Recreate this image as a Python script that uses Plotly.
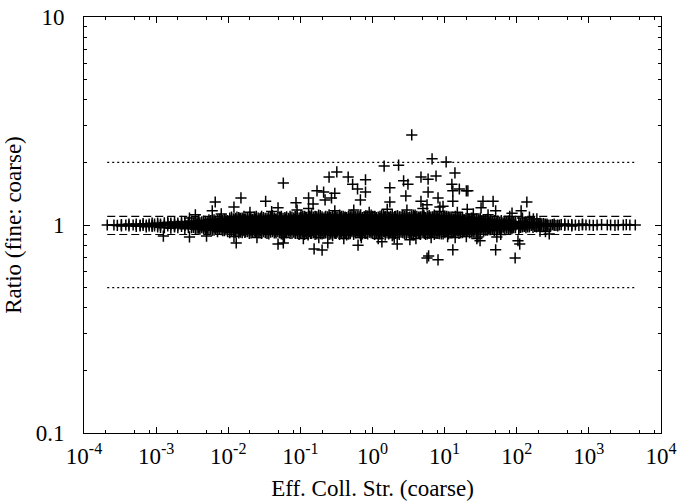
import plotly.graph_objects as go

# ---------------- data ----------------
# dense band of points: (x, list of ratios at that x)
band_cols = [
    (2.1e-4, [1.0]), (2.6e-4, [1.0]), (2.9e-4, [0.995]), (3.3e-4, [1.005, 0.99]),
    (3.8e-4, [1.0]), (4.2e-4, [0.99, 1.01]), (4.8e-4, [1.0]), (5.3e-4, [1.01, 0.985]),
    (6.0e-4, [1.0, 0.99]), (6.6e-4, [1.015, 0.995]), (7.3e-4, [1.0, 0.98]),
    (8.0e-4, [1.01, 0.99]), (8.8e-4, [1.0, 1.02, 0.985]), (9.5e-4, [0.99, 1.01]),
    (1.05e-3, [1.0, 0.98, 1.02]), (1.15e-3, [1.01, 0.975, 0.995]), (1.3e-3, [1.0, 1.025, 0.97]),
    (1.45e-3, [0.99, 1.015, 1.03]), (1.6e-3, [1.0, 0.965, 1.02]), (1.8e-3, [1.005, 0.98, 1.035, 0.99]),
    (2.0e-3, [1.0, 0.97, 1.02]), (2.25e-3, [1.01, 0.985, 1.04]), (2.5e-3, [0.995, 0.96, 1.025, 1.0]),
    (2.8e-3, [1.0, 1.03, 0.975]), (3.1e-3, [1.015, 0.97, 0.99, 1.045]), (3.5e-3, [1.0, 0.955, 1.03]),
    (3.9e-3, [0.985, 1.02, 1.05, 0.965]), (4.3e-3, [1.0, 1.035, 0.97, 0.99]),
    (4.8e-3, [1.01, 0.95, 1.04, 0.98]), (5.4e-3, [1.0, 1.06, 0.96, 1.025]),
    (6.0e-3, [0.99, 1.03, 0.945, 1.05, 1.01]), (6.7e-3, [1.0, 0.97, 1.045, 0.955, 1.02]),
    (7.5e-3, [1.015, 0.96, 1.065, 0.985, 1.035]), (8.4e-3, [1.0, 0.94, 1.05, 0.975, 1.025]),
    (9.3e-3, [0.99, 1.06, 0.95, 1.02, 1.04]),
    (1.05e-2, [1.0, 0.95, 1.05, 0.92, 1.08, 0.98, 1.02]),
    (1.18e-2, [1.01, 0.96, 1.04, 0.93, 1.07, 0.99]),
    (1.32e-2, [0.99, 1.03, 0.94, 1.06, 0.97, 1.09, 1.0]),
    (1.48e-2, [1.0, 0.955, 1.045, 0.925, 1.075, 1.015]),
    (1.65e-2, [0.985, 1.025, 0.94, 1.065, 0.96, 1.1, 1.0]),
    (1.85e-2, [1.0, 0.97, 1.035, 0.93, 1.08, 0.95, 1.05]),
    (2.07e-2, [1.01, 0.945, 1.055, 0.915, 1.07, 0.98]),
    (2.3e-2, [0.995, 1.03, 0.96, 1.09, 0.935, 1.06, 1.0]),
    (2.6e-2, [1.0, 0.95, 1.045, 0.92, 1.08, 0.975, 1.02]),
    (2.9e-2, [1.005, 0.965, 1.04, 0.91, 1.1, 0.94, 1.065]),
    (3.25e-2, [0.99, 1.025, 0.955, 1.075, 0.925, 1.05, 1.0]),
    (3.65e-2, [1.0, 0.94, 1.06, 0.97, 1.03, 0.905, 1.09]),
    (4.1e-2, [1.015, 0.96, 1.045, 0.93, 1.08, 0.985, 1.11]),
    (4.6e-2, [1.0, 0.95, 1.035, 0.915, 1.07, 0.975, 1.055]),
    (5.15e-2, [0.99, 1.04, 0.945, 1.09, 0.92, 1.06, 1.01]),
    (5.75e-2, [1.0, 0.965, 1.025, 0.93, 1.075, 0.9, 1.05]),
    (6.45e-2, [1.01, 0.955, 1.05, 0.92, 1.095, 0.98, 1.03]),
    (7.2e-2, [0.995, 1.035, 0.94, 1.065, 0.91, 1.1, 0.97]),
    (8.1e-2, [1.0, 0.95, 1.045, 0.925, 1.08, 0.975, 1.02, 1.06]),
    (9.05e-2, [1.005, 0.96, 1.04, 0.91, 1.07, 0.94, 1.095, 0.985]),
    (0.102, [1.0, 0.95, 1.05, 0.915, 1.085, 0.97, 1.03, 1.11]),
    (0.114, [0.99, 1.04, 0.935, 1.07, 0.9, 1.1, 0.965, 1.015]),
    (0.128, [1.0, 0.955, 1.06, 0.92, 1.09, 0.98, 1.025, 0.895]),
    (0.143, [1.01, 0.945, 1.045, 0.91, 1.075, 0.97, 1.12, 0.99]),
    (0.160, [0.995, 1.035, 0.93, 1.065, 0.9, 1.1, 0.96, 1.015]),
    (0.179, [1.0, 0.95, 1.05, 0.92, 1.08, 0.975, 1.025, 1.115]),
    (0.200, [1.005, 0.94, 1.04, 0.905, 1.07, 0.965, 1.095, 0.985]),
    (0.224, [0.99, 1.03, 0.955, 1.06, 0.915, 1.1, 0.975, 1.01]),
    (0.250, [1.0, 0.945, 1.055, 0.9, 1.085, 0.97, 1.03, 1.12]),
    (0.280, [1.01, 0.96, 1.045, 0.925, 1.075, 0.89, 1.105, 0.985]),
    (0.313, [0.995, 1.04, 0.935, 1.065, 0.91, 1.09, 0.965, 1.02]),
    (0.350, [1.0, 0.95, 1.05, 0.92, 1.08, 0.975, 1.115, 0.9]),
    (0.392, [1.005, 0.955, 1.035, 0.905, 1.07, 0.94, 1.1, 0.985]),
    (0.438, [0.99, 1.045, 0.93, 1.06, 0.895, 1.085, 0.97, 1.02]),
    (0.490, [1.0, 0.96, 1.05, 0.915, 1.075, 0.945, 1.11, 1.025]),
    (0.548, [1.01, 0.945, 1.04, 0.9, 1.09, 0.975, 1.065, 0.99]),
    (0.613, [0.995, 1.035, 0.95, 1.07, 0.92, 1.1, 0.965, 1.015]),
    (0.685, [1.0, 0.94, 1.055, 0.91, 1.08, 0.98, 1.12, 0.89]),
    (0.766, [1.005, 0.955, 1.045, 0.925, 1.065, 0.97, 1.095, 1.02]),
    (0.857, [0.99, 1.03, 0.935, 1.075, 0.905, 1.105, 0.96, 1.01]),
    (0.958, [1.0, 0.95, 1.05, 0.915, 1.085, 0.975, 1.025, 1.115]),
    (1.07, [1.005, 0.945, 1.04, 0.9, 1.07, 0.965, 1.1, 0.985]),
    (1.20, [0.99, 1.035, 0.93, 1.06, 0.91, 1.09, 0.97, 1.02]),
    (1.34, [1.0, 0.955, 1.055, 0.92, 1.08, 0.94, 1.115, 0.995]),
    (1.50, [1.01, 0.96, 1.045, 0.895, 1.075, 0.98, 1.1, 1.025]),
    (1.68, [0.995, 1.04, 0.935, 1.065, 0.905, 1.09, 0.965, 1.015]),
    (1.88, [1.0, 0.95, 1.05, 0.915, 1.085, 0.975, 1.12, 0.89]),
    (2.10, [1.005, 0.945, 1.035, 0.91, 1.07, 0.96, 1.1, 0.985]),
    (2.35, [0.99, 1.045, 0.93, 1.06, 0.9, 1.095, 0.97, 1.02]),
    (2.63, [1.0, 0.955, 1.05, 0.92, 1.08, 0.94, 1.11, 1.025]),
    (2.94, [1.01, 0.96, 1.04, 0.905, 1.075, 0.98, 1.1, 0.99]),
    (3.29, [0.995, 1.035, 0.945, 1.065, 0.915, 1.09, 0.965, 1.015]),
    (3.68, [1.0, 0.95, 1.055, 0.925, 1.085, 0.975, 1.115, 0.895]),
    (4.12, [1.005, 0.94, 1.045, 0.91, 1.07, 0.96, 1.1, 0.985]),
    (4.60, [0.99, 1.04, 0.935, 1.06, 0.9, 1.095, 0.97, 1.02]),
    (5.15, [1.0, 0.955, 1.05, 0.92, 1.08, 0.945, 1.11, 1.025]),
    (5.76, [1.01, 0.96, 1.035, 0.905, 1.075, 0.98, 1.1, 0.99]),
    (6.44, [0.995, 1.045, 0.94, 1.065, 0.915, 1.09, 0.965, 1.015]),
    (7.20, [1.0, 0.95, 1.05, 0.925, 1.085, 0.975, 1.115, 0.9]),
    (8.05, [1.005, 0.945, 1.04, 0.91, 1.07, 0.96, 1.1, 0.985]),
    (9.00, [0.99, 1.035, 0.93, 1.06, 0.905, 1.09, 0.97, 1.02]),
    (10.1, [1.0, 0.955, 1.05, 0.92, 1.08, 0.94, 1.105, 1.025]),
    (11.3, [1.01, 0.96, 1.04, 0.905, 1.07, 0.98, 1.095, 0.99]),
    (12.6, [0.995, 1.045, 0.935, 1.065, 0.915, 1.09, 0.965, 1.015]),
    (14.1, [1.0, 0.95, 1.05, 0.925, 1.08, 0.975, 1.1]),
    (15.8, [1.005, 0.945, 1.04, 0.91, 1.07, 0.96, 0.985]),
    (17.7, [0.99, 1.035, 0.935, 1.06, 0.92, 1.085, 1.02]),
    (19.8, [1.0, 0.955, 1.05, 0.93, 1.075, 0.975, 1.025]),
    (22.2, [1.01, 0.96, 1.04, 0.915, 1.065, 0.99]),
    (24.8, [0.995, 1.035, 0.945, 1.06, 0.93, 1.08, 1.015]),
    (27.8, [1.0, 0.955, 1.045, 0.935, 1.07, 0.98]),
    (31.1, [1.005, 0.965, 1.035, 0.94, 1.06, 0.99, 1.075]),
    (34.8, [0.99, 1.03, 0.95, 1.055, 0.935, 1.015]),
    (39.0, [1.0, 0.96, 1.04, 0.945, 1.065, 0.985]),
    (43.6, [1.01, 0.965, 1.035, 0.95, 1.055, 0.99]),
    (48.8, [0.995, 1.025, 0.955, 1.05, 0.94, 1.01]),
    (54.6, [1.0, 0.97, 1.03, 0.955, 1.045]),
    (61.1, [1.005, 0.965, 1.035, 0.985, 1.05]),
    (68.4, [0.99, 1.02, 0.96, 1.04, 1.005]),
    (76.6, [1.0, 0.97, 1.03, 0.955, 1.045]),
    (85.7, [1.01, 0.975, 1.025, 0.96, 0.99]),
    (95.9, [0.995, 1.02, 0.97, 1.04, 1.005]),
    (107, [1.0, 0.975, 1.025, 0.96]), (120, [1.01, 0.98, 1.03, 0.99]),
    (134, [0.995, 1.02, 0.97, 1.035]), (150, [1.0, 0.98, 1.025]),
    (168, [1.005, 0.975, 1.02]), (188, [0.99, 1.015, 0.98]), (210, [1.0, 0.985, 1.02]),
    (235, [1.005, 0.99, 1.015]), (263, [0.995, 1.01, 0.985]), (295, [1.0, 0.99]),
    (330, [1.01, 0.995]), (370, [1.0, 0.99]), (414, [1.005]), (463, [0.995, 1.01]),
    (518, [1.0]), (580, [1.005, 0.99]), (650, [1.0]), (727, [0.995]), (815, [1.0, 1.01]),
    (912, [1.0]), (1020, [1.0]), (1150, [0.995]), (1300, [1.0]), (1500, [1.005]),
    (1800, [1.0]), (2000, [1.0]), (2300, [0.995]), (2550, [1.0]), (3000, [1.0]),
    (3300, [1.005]), (3700, [1.0]), (4400, [1.0]),
]

# further points filling the dense band between the columns above
band_cols_more = [
    (3.3e-3, [1.0, 0.975, 1.02]), (3.7e-3, [1.01, 0.965, 1.04]), (4.05e-3, [0.99, 1.025, 0.955]),
    (4.55e-3, [1.0, 0.96, 1.045, 0.985]), (5.1e-3, [1.015, 0.97, 1.035, 0.95]),
    (5.7e-3, [0.995, 1.05, 0.96, 1.02]), (6.35e-3, [1.0, 0.945, 1.04, 0.98, 1.06]),
    (7.1e-3, [1.01, 0.955, 1.03, 0.93, 1.055]), (7.95e-3, [0.99, 1.045, 0.95, 1.015, 1.07]),
    (8.85e-3, [1.0, 0.94, 1.035, 0.965, 1.065]), (9.8e-3, [1.005, 0.955, 1.05, 0.93, 1.025]),
    (1.11e-2, [0.985, 1.035, 0.935, 1.065, 0.96, 1.015, 1.09]),
    (1.25e-2, [1.0, 0.95, 1.05, 0.925, 1.075, 0.97, 1.025]),
    (1.4e-2, [1.01, 0.965, 1.04, 0.915, 1.085, 0.99, 1.06]),
    (1.56e-2, [0.995, 1.03, 0.945, 1.055, 0.92, 1.08, 0.975]),
    (1.75e-2, [1.0, 0.955, 1.045, 0.93, 1.07, 0.985, 1.02]),
    (1.96e-2, [1.005, 0.94, 1.035, 0.965, 1.09, 0.91, 1.06]),
    (2.18e-2, [0.99, 1.025, 0.95, 1.065, 0.925, 1.045, 1.01]),
    (2.45e-2, [1.0, 0.96, 1.04, 0.935, 1.08, 0.98, 1.1]),
    (2.75e-2, [1.015, 0.945, 1.05, 0.92, 1.07, 0.97, 1.03]),
    (3.07e-2, [0.995, 1.035, 0.955, 1.085, 0.93, 1.06, 0.98]),
    (3.45e-2, [1.0, 0.95, 1.045, 0.91, 1.075, 0.965, 1.02]),
    (3.87e-2, [1.01, 0.96, 1.03, 0.925, 1.095, 0.985, 1.055]),
    (4.35e-2, [0.99, 1.04, 0.94, 1.065, 0.915, 1.015, 1.08]),
    (4.87e-2, [1.0, 0.955, 1.05, 0.93, 1.085, 0.975, 1.025]),
    (5.45e-2, [1.005, 0.945, 1.04, 0.905, 1.07, 0.965, 1.1]),
    (6.1e-2, [0.995, 1.03, 0.95, 1.06, 0.92, 1.085, 0.98]),
    (6.8e-2, [1.0, 0.96, 1.045, 0.935, 1.075, 0.99, 1.02]),
    (7.65e-2, [1.01, 0.95, 1.035, 0.91, 1.09, 0.97, 1.055]),
    (8.55e-2, [0.99, 1.04, 0.945, 1.065, 0.925, 1.1, 1.005]),
    (9.6e-2, [1.0, 0.955, 1.05, 0.93, 1.08, 0.975, 1.025, 0.9]),
    (0.108, [1.005, 0.96, 1.04, 0.925, 1.075, 0.985, 1.1, 0.945]),
    (0.121, [0.99, 1.03, 0.945, 1.06, 0.91, 1.085, 0.97, 1.015]),
    (0.135, [1.0, 0.95, 1.045, 0.93, 1.07, 0.98, 1.105, 1.02]),
    (0.151, [1.01, 0.965, 1.035, 0.92, 1.09, 0.94, 1.055, 0.995]),
    (0.169, [0.995, 1.04, 0.955, 1.075, 0.905, 1.02, 0.975, 1.095]),
    (0.189, [1.0, 0.945, 1.05, 0.925, 1.065, 0.97, 1.11, 1.015]),
    (0.212, [1.005, 0.96, 1.03, 0.91, 1.08, 0.985, 1.045, 0.935]),
    (0.237, [0.99, 1.045, 0.94, 1.07, 0.92, 1.095, 0.965, 1.02]),
    (0.265, [1.0, 0.955, 1.04, 0.93, 1.085, 0.98, 1.06, 0.905]),
    (0.296, [1.01, 0.945, 1.05, 0.915, 1.07, 0.97, 1.11, 1.025]),
    (0.331, [0.995, 1.035, 0.95, 1.06, 0.925, 1.09, 0.975, 1.015]),
    (0.371, [1.0, 0.96, 1.045, 0.94, 1.075, 0.91, 1.1, 1.02]),
    (0.415, [1.005, 0.95, 1.03, 0.92, 1.065, 0.985, 1.085, 0.965]),
    (0.464, [0.99, 1.04, 0.945, 1.07, 0.905, 1.1, 0.975, 1.015]),
    (0.519, [1.0, 0.955, 1.05, 0.93, 1.08, 0.965, 1.12, 1.025]),
    (0.580, [1.01, 0.96, 1.035, 0.915, 1.06, 0.985, 1.09, 0.94]),
    (0.649, [0.995, 1.045, 0.95, 1.075, 0.92, 1.1, 0.97, 1.015]),
    (0.725, [1.0, 0.945, 1.04, 0.93, 1.065, 0.98, 1.085, 0.905]),
    (0.810, [1.005, 0.96, 1.05, 0.91, 1.08, 0.97, 1.11, 1.025]),
    (0.907, [0.99, 1.035, 0.955, 1.06, 0.925, 1.095, 0.975, 1.015]),
    (1.01, [1.0, 0.95, 1.045, 0.94, 1.075, 0.91, 1.1, 1.02]),
    (1.13, [1.01, 0.96, 1.03, 0.92, 1.065, 0.985, 1.085, 0.945]),
    (1.27, [0.995, 1.04, 0.945, 1.07, 0.905, 1.1, 0.97, 1.015]),
    (1.42, [1.0, 0.955, 1.05, 0.93, 1.08, 0.965, 1.115, 1.025]),
    (1.59, [1.005, 0.96, 1.035, 0.915, 1.06, 0.985, 1.09, 0.94]),
    (1.78, [0.99, 1.045, 0.95, 1.075, 0.92, 1.1, 0.975, 1.015]),
    (1.99, [1.0, 0.945, 1.04, 0.93, 1.065, 0.98, 1.085, 0.9]),
    (2.22, [1.01, 0.96, 1.05, 0.91, 1.08, 0.97, 1.11, 1.025]),
    (2.49, [0.995, 1.035, 0.955, 1.06, 0.925, 1.095, 0.975, 1.015]),
    (2.78, [1.0, 0.95, 1.045, 0.94, 1.075, 0.91, 1.1, 1.02]),
    (3.11, [1.005, 0.96, 1.03, 0.92, 1.065, 0.985, 1.085, 0.945]),
    (3.48, [0.99, 1.04, 0.945, 1.07, 0.905, 1.1, 0.97, 1.015]),
    (3.90, [1.0, 0.955, 1.05, 0.93, 1.08, 0.965, 1.115, 1.025]),
    (4.36, [1.01, 0.96, 1.035, 0.915, 1.06, 0.985, 1.09, 0.94]),
    (4.87, [0.995, 1.045, 0.95, 1.075, 0.92, 1.1, 0.975, 1.015]),
    (5.45, [1.0, 0.945, 1.04, 0.93, 1.065, 0.98, 1.085, 0.9]),
    (6.09, [1.005, 0.96, 1.05, 0.91, 1.08, 0.97, 1.11, 1.025]),
    (6.81, [0.99, 1.035, 0.955, 1.06, 0.925, 1.095, 0.975, 1.015]),
    (7.62, [1.0, 0.95, 1.045, 0.94, 1.075, 0.91, 1.1, 1.02]),
    (8.52, [1.01, 0.96, 1.03, 0.92, 1.065, 0.985, 1.085, 0.945]),
    (9.53, [0.995, 1.04, 0.945, 1.07, 0.905, 1.1, 0.97, 1.015]),
    (10.7, [1.0, 0.955, 1.045, 0.93, 1.08, 0.965, 1.025, 1.1]),
    (11.9, [1.005, 0.96, 1.035, 0.915, 1.06, 0.985, 1.09]),
    (13.35, [0.99, 1.04, 0.95, 1.07, 0.925, 1.015, 0.97]),
    (14.9, [1.0, 0.945, 1.05, 0.935, 1.075, 0.98, 1.02]),
    (16.7, [1.01, 0.96, 1.03, 0.92, 1.065, 0.99, 1.085]),
    (18.7, [0.995, 1.045, 0.955, 1.06, 0.93, 1.015]),
    (21.0, [1.0, 0.95, 1.04, 0.94, 1.07, 0.975]),
    (23.5, [1.005, 0.965, 1.035, 0.925, 1.055, 0.99, 1.08]),
    (26.3, [0.99, 1.03, 0.955, 1.065, 0.94, 1.015]),
    (29.4, [1.0, 0.96, 1.045, 0.945, 1.06, 0.98]),
    (32.9, [1.01, 0.97, 1.03, 0.95, 1.05, 0.99]),
    (36.9, [0.995, 1.035, 0.96, 1.055, 0.945]),
    (41.3, [1.0, 0.965, 1.025, 0.95, 1.045]),
    (46.2, [1.005, 0.97, 1.04, 0.955, 0.99]),
    (51.7, [0.99, 1.02, 0.965, 1.035]),
    (57.8, [1.0, 0.975, 1.03, 0.96]),
    (64.7, [1.01, 0.97, 1.025, 0.985]),
    (72.4, [0.995, 1.015, 0.965, 1.035]),
    (81.0, [1.0, 0.98, 1.02, 0.96]),
    (90.6, [1.005, 0.97, 1.03]),
    (113, [0.99, 1.015, 0.975]), (127, [1.0, 1.02, 0.985]), (142, [1.005, 0.98]),
    (159, [0.995, 1.015]), (178, [1.0, 0.985]), (199, [1.01, 0.99]), (222, [1.0]),
    (249, [0.995, 1.01]), (279, [1.0]), (312, [1.005]), (350, [0.995]), (392, [1.0]),
]

# a third layer of band points at intermediate ratios
band_cols_fill = [
    (1.2e-2, [0.962, 1.012, 1.058, 0.938]), (1.45e-2, [0.988, 1.038, 0.932, 1.072]),
    (1.7e-2, [0.958, 1.018, 1.062, 0.922]), (2.0e-2, [0.992, 1.042, 0.948, 1.088]),
    (2.4e-2, [0.968, 1.022, 1.068, 0.928]), (2.8e-2, [0.982, 1.032, 0.942, 1.078]),
    (3.3e-2, [0.962, 1.012, 1.058, 0.918]), (3.9e-2, [0.988, 1.038, 0.952, 1.082]),
    (4.5e-2, [0.972, 1.018, 1.062, 0.928]), (5.3e-2, [0.992, 1.042, 0.938, 1.088]),
    (6.2e-2, [0.958, 1.022, 1.068, 0.922]), (7.3e-2, [0.982, 1.032, 0.948, 1.078]),
    (8.5e-2, [0.968, 1.012, 1.058, 0.912, 1.098]), (0.1, [0.988, 1.038, 0.942, 1.082, 0.918]),
    (0.118, [0.962, 1.018, 1.062, 0.928, 1.092]), (0.138, [0.992, 1.042, 0.948, 1.088, 0.912]),
    (0.162, [0.958, 1.022, 1.068, 0.922, 1.098]), (0.19, [0.982, 1.032, 0.938, 1.078, 0.908]),
    (0.222, [0.972, 1.012, 1.058, 0.928, 1.092]), (0.26, [0.988, 1.038, 0.952, 1.082, 0.918]),
    (0.305, [0.962, 1.018, 1.062, 0.912, 1.098]), (0.357, [0.992, 1.042, 0.948, 1.088, 0.928]),
    (0.418, [0.958, 1.022, 1.068, 0.922, 1.092]), (0.49, [0.982, 1.032, 0.938, 1.078, 0.908]),
    (0.574, [0.968, 1.012, 1.058, 0.928, 1.098]), (0.672, [0.988, 1.038, 0.952, 1.082, 0.918]),
    (0.787, [0.962, 1.018, 1.062, 0.912, 1.092]), (0.922, [0.992, 1.042, 0.948, 1.088, 0.928]),
    (1.08, [0.958, 1.022, 1.068, 0.922, 1.098]), (1.26, [0.982, 1.032, 0.938, 1.078, 0.908]),
    (1.48, [0.972, 1.012, 1.058, 0.928, 1.092]), (1.73, [0.988, 1.038, 0.952, 1.082, 0.918]),
    (2.03, [0.962, 1.018, 1.062, 0.912, 1.098]), (2.38, [0.992, 1.042, 0.948, 1.088, 0.928]),
    (2.78, [0.958, 1.022, 1.068, 0.922, 1.092]), (3.26, [0.982, 1.032, 0.938, 1.078, 0.908]),
    (3.82, [0.968, 1.012, 1.058, 0.928, 1.098]), (4.47, [0.988, 1.038, 0.952, 1.082, 0.918]),
    (5.24, [0.962, 1.018, 1.062, 0.912, 1.092]), (6.13, [0.992, 1.042, 0.948, 1.088, 0.928]),
    (7.18, [0.958, 1.022, 1.068, 0.922, 1.098]), (8.41, [0.982, 1.032, 0.938, 1.078, 0.908]),
    (9.85, [0.972, 1.012, 1.058, 0.928, 1.092]), (11.5, [0.988, 1.038, 0.952, 1.082]),
    (13.5, [0.962, 1.018, 1.062, 0.932]), (15.8, [0.992, 1.042, 0.948, 1.072]),
    (18.5, [0.968, 1.022, 1.058, 0.938]), (21.7, [0.982, 1.032, 0.952, 1.062]),
    (25.4, [0.972, 1.012, 1.048]), (29.8, [0.988, 1.028, 0.958]),
    (34.9, [0.968, 1.018, 1.042]), (40.9, [0.992, 1.032, 0.962]),
]

# scattered points outside the dense band
scatter_x = [
    0.0035, 0.008, 0.012, 0.02, 0.025, 0.04, 0.06, 0.09, 0.11, 0.13, 0.18, 0.3, 0.4,
    0.55, 0.7, 0.9, 1.2, 1.6, 2.0, 3.0, 4.0, 5.0, 6.5, 8.5, 11, 15, 20, 25, 40, 60, 80,
    120, 150, 250,
    0.058, 0.0066, 0.015, 0.033, 0.012, 0.006, 0.049, 0.00126, 0.0029, 0.005, 0.0129,
    0.049, 0.0029,
    3.5, 6.7, 10.5, 1.45, 2.3, 0.25, 0.32, 0.46, 0.80, 0.53, 0.62, 0.80, 0.17, 0.21,
    0.30, 0.27, 0.13, 0.22, 0.68, 0.15, 0.087, 1.74, 2.7, 3.1, 4.7, 5.9, 7.6, 13.9,
    12.6, 16, 13, 20, 21, 5.9, 2.9, 8.1, 13, 4.7, 1.74, 8.6, 9.5, 20.6, 5.7,
    0.155, 0.20, 0.24, 0.63, 1.35, 2.2, 3.3, 5.7, 6.0, 8.1, 13, 14, 28, 0.058,
    34, 47, 138, 51, 32, 115, 86, 190, 170, 53, 51, 104, 110, 95, 282, 29, 31, 210,
]
scatter_ratio = [
    1.12, 1.13, 0.88, 1.15, 0.87, 1.16, 0.87, 1.18, 0.86, 1.2, 0.87, 1.17, 0.86,
    1.18, 0.87, 1.15, 0.86, 1.19, 0.87, 1.18, 0.86, 1.2, 0.87, 1.16, 0.88, 1.15, 0.88,
    1.13, 1.12, 0.9, 1.1, 1.08, 1.09, 0.93,
    1.59, 1.29, 1.35, 1.30, 1.22, 1.17, 1.21, 0.885, 0.876, 0.885, 0.82,
    0.81, 1.08,
    2.71, 2.08, 2.01, 1.92, 1.94, 1.70, 1.80, 1.70, 1.65, 1.57, 1.49, 1.44, 1.46, 1.44,
    1.42, 1.35, 1.35, 1.32, 1.32, 1.26, 1.28, 1.51, 1.63, 1.57, 1.70, 1.66, 1.72, 1.78,
    1.57, 1.49, 1.46, 1.46, 1.46, 1.44, 1.38, 1.35, 1.30, 1.30, 1.29, 1.22, 1.23, 1.19, 1.25,
    0.767, 0.758, 0.82, 0.80, 0.83, 0.81, 0.85, 0.694, 0.71, 0.68, 0.76, 0.87, 0.86, 0.82,
    1.30, 1.30, 1.29, 1.17, 1.21, 1.17, 1.14, 1.07, 1.07, 0.876, 0.76, 0.84, 0.81, 0.694,
    0.905, 0.876, 0.84, 0.935,
]

ref_dotted = [2.0, 0.5]
ref_dashed = [1.1, 0.9]
ref_solid = [1.0]

x_tick_vals = [1e-4, 1e-3, 1e-2, 1e-1, 1e0, 1e1, 1e2, 1e3, 1e4]
x_tick_text = ["10<sup>-4</sup>", "10<sup>-3</sup>", "10<sup>-2</sup>", "10<sup>-1</sup>",
               "10<sup>0</sup>", "10<sup>1</sup>", "10<sup>2</sup>", "10<sup>3</sup>",
               "10<sup>4</sup>"]
y_tick_vals = [0.1, 1, 10]
y_tick_text = ["0.1", "1", "10"]

# ---------------- build ----------------
px, py = [], []
for xv, rs in band_cols + band_cols_more + band_cols_fill:
    for r in rs:
        px.append(xv)
        py.append(r)
px += scatter_x
py += scatter_ratio

xmin, xmax = min(px), max(px)

fig = go.Figure()

def hline(level, dash):
    fig.add_trace(go.Scatter(x=[xmin, xmax], y=[level, level], mode="lines",
                             line=dict(color="black", width=1.2, dash=dash),
                             showlegend=False, hoverinfo="skip"))

for lv in ref_dotted:
    hline(lv, "2px,3px")
for lv in ref_dashed:
    hline(lv, "8px,4px")
for lv in ref_solid:
    hline(lv, "solid")

fig.add_trace(go.Scatter(x=px, y=py, mode="markers",
                         marker=dict(symbol="cross-thin", size=8, color="black",
                                     line=dict(color="black", width=1.5)),
                         showlegend=False))

font = dict(family="Liberation Serif, Times New Roman, serif", size=23, color="black")

minor_x = []
for d in range(-4, 4):
    for m in (2, 5, 8):
        minor_x.append(m * 10.0 ** d)
minor_y = []
for d in (-1, 0):
    for m in range(2, 10):
        minor_y.append(m * 10.0 ** d)

fig.update_layout(
    width=677, height=502,
    margin=dict(l=84, r=16, t=17, b=69),
    paper_bgcolor="white", plot_bgcolor="white",
    font=font,
    showlegend=False,
)
fig.update_xaxes(
    type="log", range=[-4, 4], automargin=False,
    tickmode="array", tickvals=x_tick_vals, ticktext=x_tick_text,
    ticks="inside", ticklen=6, tickwidth=1, tickcolor="black",
    showline=True, linecolor="black", linewidth=1, mirror="ticks",
    showgrid=False, zeroline=False,
    minor=dict(tickvals=minor_x, ticks="inside", ticklen=3, tickcolor="black", showgrid=False),
    ticklabelstandoff=2,
    title=dict(text="Eff. Coll. Str. (coarse)", font=font, standoff=12),
    tickfont=font,
)
fig.update_yaxes(
    type="log", range=[-1, 1], automargin=False,
    tickmode="array", tickvals=y_tick_vals, ticktext=y_tick_text,
    ticks="inside", ticklen=6, tickwidth=1, tickcolor="black",
    showline=True, linecolor="black", linewidth=1, mirror="ticks",
    showgrid=False, zeroline=False,
    minor=dict(tickvals=minor_y, ticks="inside", ticklen=3, tickcolor="black", showgrid=False),
    ticklabelstandoff=14,
    title=dict(text="Ratio (fine: coarse)", font=font, standoff=7),
    tickfont=font,
)

fig.write_html("out.html")
